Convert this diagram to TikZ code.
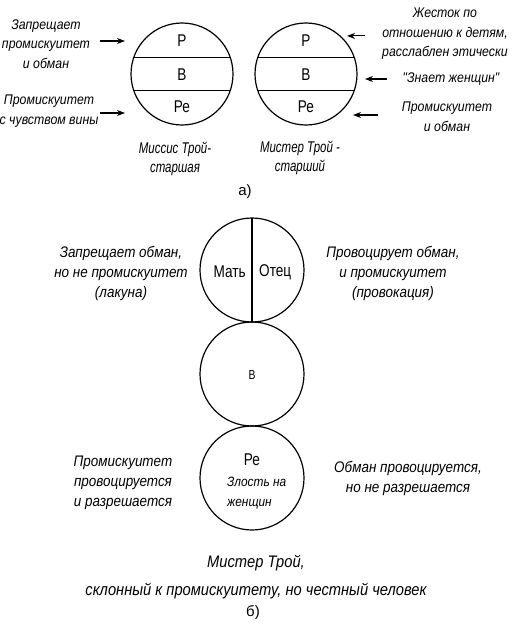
\documentclass[tikz,border=0pt]{standalone}
\usepackage{fontspec}
\setmainfont{Liberation Sans}
\newfontfamily\condfont{Liberation Sans}[FakeStretch=0.8]
\newfontfamily\notefont{Liberation Sans}[FakeStretch=0.88]
\newfontfamily\capfont{Liberation Sans}[FakeStretch=0.74]
\usetikzlibrary{arrows.meta, positioning, calc}

\begin{document}
\begin{tikzpicture}[
    x=1pt, y=-1pt,
    >={Stealth[length=8pt, width=6pt]},
    part/.style={draw, circle, line width=1.2pt, minimum size=102pt,
                 inner sep=0pt, outer sep=0pt},
    ego/.style={font=\fontsize{17}{20}\selectfont\condfont, inner sep=0pt},
    note/.style={font=\fontsize{14}{19.5}\selectfont\notefont\itshape,
                 align=center, inner sep=0pt},
    bignote/.style={note, font=\fontsize{15.3}{20}\selectfont\notefont\itshape},
    caption/.style={font=\fontsize{15.5}{18.5}\selectfont\capfont\itshape,
                    align=center, inner sep=0pt},
    arr/.style={->, line width=1.1pt}
  ]
  \useasboundingbox (0,0) rectangle (513,626);

  % a) parents
  \node[part] (mrs) at (182,74) {};
  \node[part] (mr) at (306,74) {};
  \draw[line width=1.2pt] (mrs.161) -- (mrs.19) (mrs.199) -- (mrs.-19);
  \draw[line width=1.2pt] (mr.161) -- (mr.19) (mr.199) -- (mr.-19);
  \node[ego] (mrsP) at (182,41) {Р};
  \node[ego] (mrsA) at (182,75) {В};
  \node[ego] (mrsC) at (182,107) {Ре};
  \node[ego] (mrP) at (306,41) {Р};
  \node[ego] (mrA) at (306,75) {В};
  \node[ego] (mrC) at (306,107) {Ре};

  \node[note] (zap) at (46,44) {Запрещает\\промискуитет\\и обман};
  \node[note] (guilt) at (49,111) {Промискуитет\\с чувством вины};
  \node[note] (cruel) at (445,34) {Жесток по\\отношению к детям,\\расслаблен этически};
  \node[note] (knows) at (451,79) {"Знает женщин"};
  \node[note] (cheat) at (447,117) {Промискуитет\\и обман};

  \draw[arr] ($(zap -| mrs.west)+(-31,-3)$) -- ($(zap -| mrs.west)+(-6,-3)$);
  \draw[arr] ($(guilt -| mrs.west)+(-31,2)$) -- ($(guilt -| mrs.west)+(-6,2)$);
  \draw[arr] ($(mr.45)+(23,-2)$) -- ($(mr.45)+(5,-2)$);
  \draw[arr] ($(knows -| mr.east)+(30,0)$) -- ($(knows -| mr.east)+(8,0)$);
  \draw[arr] ($(cheat -| mr.east)+(21,-2)$) -- ($(cheat -| mr.east)+(-4,-2)$);

  \node[caption] (mrsname) at (175,159) {Миссис Трой-\\старшая};
  \node[caption] (mrname) at (300,158) {Мистер Трой -\\старший};
  \node[font=\fontsize{15}{18}\selectfont, inner sep=0pt] (parta) at (245,192) {а)};

  % b) son
  \node[part, minimum size=104pt] (top) at (252,270) {};
  \node[part, minimum size=104pt, below=0pt of top] (mid) {};
  \node[part, minimum size=104pt, below=0pt of mid] (bot) {};
  \draw[line width=1.2pt] (top.north) -- (top.south);
  \node[ego, anchor=east] (mother) at (246,272) {Мать};
  \node[ego, anchor=west] (father) at (259,272) {Отец};
  \node[ego, font=\fontsize{13}{16}\selectfont\condfont] (adult) at (252,375) {В};
  \node[ego] (child) at (252,460) {Ре};
  \node[note, font=\fontsize{13.5}{20}\selectfont\notefont\itshape, align=left,
        anchor=west] (anger) at (227,493) {Злость на\\женщин};

  \node[bignote] (lacuna) at (121,273) {Запрещает обман,\\но не промискуитет\\(лакуна)};
  \node[bignote] (provoc) at (393,273) {Провоцирует обман,\\и промискуитет\\(провокация)};
  \node[bignote] (allowed) at (123,483) {Промискуитет\\провоцируется\\и разрешается};
  \node[bignote] (denied) at (408,478) {Обман провоцируется,\\но не разрешается};

  \node[caption, font=\fontsize{16.7}{28}\selectfont\notefont\itshape] (sonname)
    at (256,577) {Мистер Трой,\\склонный к промискуитету, но честный человек};
  \node[font=\fontsize{15}{18}\selectfont, inner sep=0pt] (partb) at (253,613) {б)};
\end{tikzpicture}
\end{document}
